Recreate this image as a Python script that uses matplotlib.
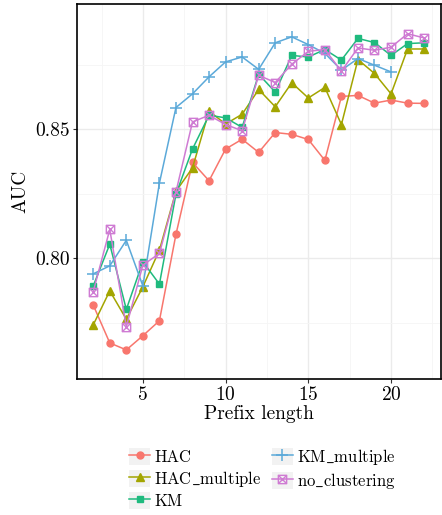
import numpy as np
import matplotlib
matplotlib.use('Agg')
import matplotlib.pyplot as plt
from matplotlib.path import Path
from matplotlib.patches import Rectangle
from matplotlib.legend_handler import HandlerLine2D

plt.rcParams['font.family'] = 'serif'
plt.rcParams['font.serif'] = ['cmr10']
plt.rcParams['mathtext.fontset'] = 'cm'
plt.rcParams['axes.formatter.use_mathtext'] = True

# prefix lengths
prefix = list(range(2, 23))

hac = [0.7819, 0.7672, 0.7645, 0.7700, 0.7758, 0.8093, 0.8372, 0.8301, 0.8424, 0.8462,
       0.8411, 0.8488, 0.8481, 0.8461, 0.8380, 0.8628, 0.8632, 0.8602, 0.8614, 0.8602, 0.8601]
hac_multiple = [0.7742, 0.7874, 0.7764, 0.7890, 0.8032, 0.8260, 0.8351, 0.8571, 0.8521, 0.8559,
                0.8655, 0.8588, 0.8681, 0.8622, 0.8663, 0.8519, 0.8771, 0.8717, 0.8638, 0.8812, 0.8812]
km = [0.7893, 0.8055, 0.7802, 0.7987, 0.7900, 0.8249, 0.8424, 0.8555, 0.8545, 0.8508,
      0.8714, 0.8645, 0.8787, 0.8781, 0.8810, 0.8769, 0.8853, 0.8837, 0.8787, 0.8833, 0.8836]
km_multiple = [0.7940, 0.7971, 0.8070, 0.7893, 0.8292, 0.8585, 0.8638, 0.8704, 0.8762, 0.8781,
               0.8733, 0.8836, 0.8859, 0.8829, 0.8795, 0.8730, 0.8775, 0.8749, 0.8723]
no_clustering = [0.7871, 0.8112, 0.7735, 0.7974, 0.8019, 0.8258, 0.8529, 0.8555, 0.8519, 0.8495,
                 0.8710, 0.8682, 0.8753, 0.8803, 0.8810, 0.8726, 0.8816, 0.8807, 0.8819, 0.8871, 0.8855]

labels = ['HAC', r'HAC$\_$multiple', 'KM', r'KM$\_$multiple', r'no$\_$clustering']
colors = ['#F8766D', '#A3A500', '#1FBA7E', '#5BA9D9', '#CF7BD3']

# square with a cross inside (ggplot shape 7)
box_x = Path([(-1, -1), (1, -1), (1, 1), (-1, 1), (-1, -1), (-1, -1), (1, 1), (-1, 1), (1, -1)],
             [Path.MOVETO, Path.LINETO, Path.LINETO, Path.LINETO, Path.CLOSEPOLY,
              Path.MOVETO, Path.LINETO, Path.MOVETO, Path.LINETO])


class KeyHandler(HandlerLine2D):
    def create_artists(self, legend, orig_handle, xdescent, ydescent, width, height, fontsize, trans):
        bg = Rectangle((-xdescent, -ydescent), width, height, facecolor='#F2F2F2',
                       edgecolor='none', transform=trans)
        arts = super().create_artists(legend, orig_handle, xdescent, ydescent, width, height, fontsize, trans)
        return [bg] + list(arts)


fig = plt.figure(figsize=(4.42, 5.15), dpi=100)
ax = fig.add_axes([0.1735, 0.264, 0.8235, 0.728])

ax.plot(prefix, hac, color=colors[0], marker='o', ms=5, lw=1.1, label=labels[0])
ax.plot(prefix, hac_multiple, color=colors[1], marker='^', ms=6, lw=1.1, label=labels[1])
ax.plot(prefix, km, color=colors[2], marker='s', ms=5, lw=1.1, label=labels[2])
ax.plot(prefix[:len(km_multiple)], km_multiple, color=colors[3], marker='+', ms=8, mew=1.1,
        lw=1.1, label=labels[3])
ax.plot(prefix, no_clustering, color=colors[4], marker=box_x, ms=6, mew=1.0, mfc='none',
        lw=1.1, label=labels[4])

ax.set_xlim(1.0, 23.0)
ax.set_ylim(0.7532, 0.8986)
ax.set_xticks([5, 10, 15, 20])
ax.set_xticks([2.5, 7.5, 12.5, 17.5, 22.5], minor=True)
ax.set_yticks([0.80, 0.85])
ax.set_yticklabels(['0.80', '0.85'])
ax.set_yticks([0.775, 0.825, 0.875], minor=True)
ax.grid(True, which='major', color='#EBEBEB', lw=1.0)
ax.grid(True, which='minor', color='#F5F5F5', lw=0.6)
ax.set_axisbelow(True)
ax.tick_params(which='major', length=3, color='#333333', labelsize=14, pad=2)
ax.tick_params(which='minor', length=0)
for s in ax.spines.values():
    s.set_linewidth(1.2)
    s.set_color('black')

ax.set_xlabel('Prefix length', fontsize=14, labelpad=1)
ax.set_ylabel('AUC', fontsize=14, labelpad=4)

leg = ax.legend(loc='upper center', bbox_to_anchor=(0.51, -0.16), ncol=2, frameon=False,
                fontsize=12, handlelength=1.25, handleheight=1.2, handletextpad=0.25,
                labelspacing=0.2, columnspacing=0.6, borderpad=0,
                handler_map={plt.Line2D: KeyHandler()})

fig.savefig('out.png', dpi=100)
